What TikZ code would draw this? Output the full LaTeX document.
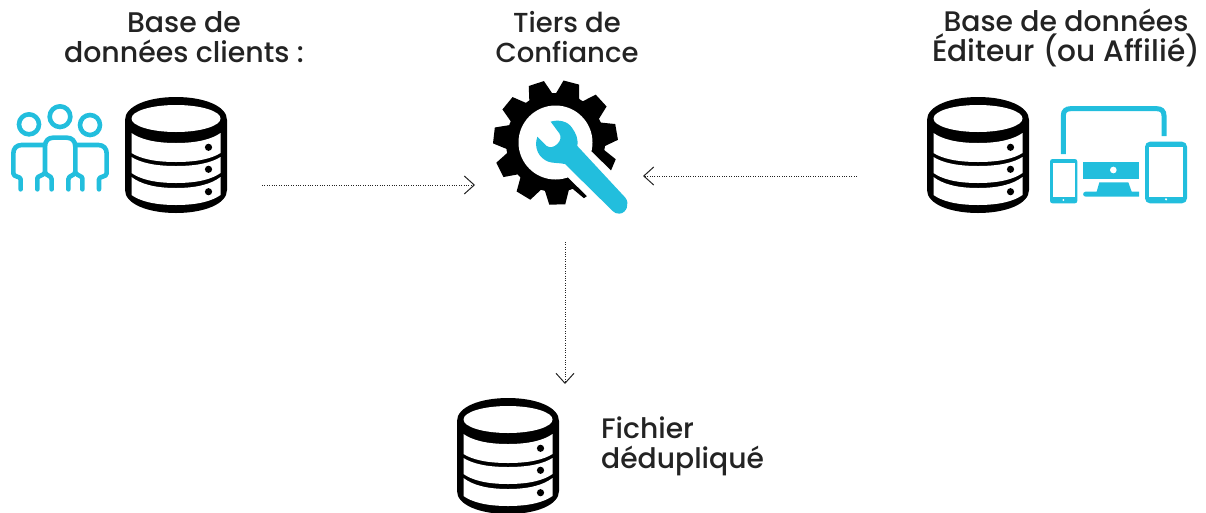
\documentclass[tikz,border=0pt]{standalone}
\usepackage{fontspec}
\setmainfont{Poppins Medium}
\usetikzlibrary{arrows.meta}
\definecolor{brandcyan}{RGB}{34,190,221}
\definecolor{inkblack}{RGB}{0,0,0}
\definecolor{labelink}{RGB}{35,35,35}
\newcommand{\bandpath}[4]{%
  (-44.5,#1) .. controls (-36,{#1+0.6*#2}) and (-22,{#1+#2}) .. (0,{#1+#2})
  .. controls (22,{#1+#2}) and (36,{#1+0.6*#2}) .. (44.5,#1)
  -- (44.5,#3) .. controls (36,{#3+0.6*#4}) and (22,{#3+#4}) .. (0,{#3+#4})
  .. controls (-22,{#3+#4}) and (-36,{#3+0.6*#4}) .. (-44.5,#3) -- cycle}
\newcommand{\labelsize}[1]{\fontsize{#1}{30}\selectfont}
\tikzset{
  dbicon/.pic={
    \fill[inkblack] (-51,23) .. controls (-51,9) and (-28,0) .. (0,0)
      .. controls (28,0) and (51,9) .. (51,23) -- (51,93)
      .. controls (51,107) and (28,116) .. (0,116)
      .. controls (-28,116) and (-51,107) .. (-51,93) -- cycle;
    \fill[white] (0,21.5) ellipse [x radius=44.5, y radius=13.5];
    \fill[white] \bandpath{36}{10}{56}{9};
    \fill[white] \bandpath{60}{9}{76}{10};
    \fill[white] \bandpath{80}{11}{98}{10};
    \fill[inkblack] (32.5,50.3) circle (3.6) (32.5,72.3) circle (3.6) (32.5,94.7) circle (3.6);
  },
  labeltext/.style={font=\labelsize{27.5}, text=labelink, align=center, inner sep=0pt},
  flowarrow/.style={draw=labelink, line width=1pt, dash pattern=on 1pt off 1.4pt,
    -{Straight Barb[length=10pt,width=18pt,line width=1pt,sep=0pt]}},
  person/.style={draw=brandcyan, line width=4.6pt, line cap=round, line join=round, fill=none},
}
\begin{document}
\begin{tikzpicture}[x=1pt,y=-1pt]
\useasboundingbox (0,0) rectangle (1206,512);

% labels
\node[labeltext, font=\labelsize{28.4}] (clientsLabel) at (184,37.5) {Base de\\données clients :};
\node[labeltext] (tiersLabel) at (567,37.5) {Tiers de\\Confiance};
\node[labeltext, font=\labelsize{28.3}] (editorLabel) at (1066,38) {Base de données\\{\labelsize{29.6}Éditeur (ou Affilié)}};
\node[labeltext, font=\labelsize{28.2}, align=left, anchor=west] (fileLabel) at (601,446) {Fichier\\dédupliqué};

% database icons
\pic at (176,97) {dbicon};
\pic at (978,97) {dbicon};
\pic at (508,398) {dbicon};

% people icon (coordinates in 3x crop space)
\begin{scope}[shift={(0,90)},scale=1/3]
  \draw[person] (87,103) circle (30);
  \draw[person] (180,80) circle (31);
  \draw[person] (270,105) circle (30);
  \draw[person] (155,298) -- (155,268) .. controls (155,255) and (135,258) .. (135,245)
    -- (135,170) .. controls (135,152) and (145,143) .. (160,143) -- (200,143)
    .. controls (215,143) and (226,152) .. (226,170) -- (226,245)
    .. controls (226,258) and (205,255) .. (205,268) -- (205,298);
  \draw[person] (62,298) -- (62,268) .. controls (62,258) and (40,262) .. (40,250)
    -- (40,190) .. controls (40,175) and (50,165) .. (65,165) -- (132,165);
  \draw[person] (112,298) -- (112,265) .. controls (112,258) and (128,258) .. (135,248);
  \draw[person] (297,298) -- (297,268) .. controls (297,258) and (320,262) .. (320,250)
    -- (320,190) .. controls (320,175) and (310,165) .. (295,165) -- (228,165);
  \draw[person] (247,298) -- (247,265) .. controls (247,258) and (233,258) .. (226,248);
\end{scope}

% gear
\pgfmathsetmacro{\gearcx}{555.5}
\pgfmathsetmacro{\gearcy}{142.5}
\begin{scope}[shift={(\gearcx,\gearcy)}]
  \fill[inkblack] (0,0) circle (49.5);
  \foreach \a in {108,75.27,42.55,9.82,-22.9,-55.64,-88.36,-121.1,-153.8,173.45,140.73}{
    \begin{scope}[rotate=\a]
      \fill[inkblack] (46,-12.5) -- (62,-8) -- (62,8) -- (46,12.5) -- cycle;
    \end{scope}
  }
  \fill[white] (0,0) circle (37);
\end{scope}

% wrench (3x crop space)
\begin{scope}[shift={(480,70)},scale=1/3]
  \draw[white, line width=35pt] (270,255) -- (470,450);
  \fill[brandcyan] (212,155) .. controls (235,148) and (262,153) .. (275,172)
    .. controls (288,190) and (295,205) .. (292,228)
    -- (436,383) .. controls (450,400) and (440,430) .. (418,431)
    .. controls (410,432) and (403,428) .. (398,423)
    -- (255,282) .. controls (235,278) and (218,280) .. (205,275)
    .. controls (178,265) and (160,235) .. (172,200)
    -- (200,228) .. controls (210,234) and (222,232) .. (232,222)
    .. controls (242,212) and (245,200) .. (238,190) -- cycle;
\end{scope}

% devices (3x crop space)
\begin{scope}[shift={(1040,95)},scale=1/3]
  \draw[brandcyan, line width=5pt] (70,177) -- (70,62) .. controls (70,48) and (78,41) .. (92,41)
    -- (350,41) .. controls (364,41) and (372,48) .. (372,62) -- (372,123);
  \fill[brandcyan, rounded corners=2.5pt] (30,192) rectangle (112,325);
  \fill[white] (38,205) rectangle (105,305);
  \fill[white] (70,315) circle (3);
  \fill[brandcyan, rounded corners=5pt] (315,140) rectangle (441,325);
  \fill[white] (328,155) rectangle (428,305);
  \fill[white] (378,313) circle (3.5);
  \fill[brandcyan] (130,200) rectangle (297,252);
  \fill[white] (220,225) circle (10);
  \fill[brandcyan] (178,262) -- (265,262) -- (275,290) -- (297,290) -- (297,305) -- (137,305)
    .. controls (127,305) and (127,290) .. (137,290) -- (170,290) -- cycle;
\end{scope}

% connector ends
\coordinate (clientsOut) at (262,185);
\coordinate (tiersInLeft) at (475,185);
\coordinate (editorOut) at (857,176);
\coordinate (tiersInRight) at (643,176);
\coordinate (tiersOut) at (565,242);
\coordinate (fileIn) at (565,384);

\draw[flowarrow] (clientsOut) -- (tiersInLeft);
\draw[flowarrow] (editorOut) -- (tiersInRight);
\draw[flowarrow] (tiersOut) -- (fileIn);
\end{tikzpicture}
\end{document}
